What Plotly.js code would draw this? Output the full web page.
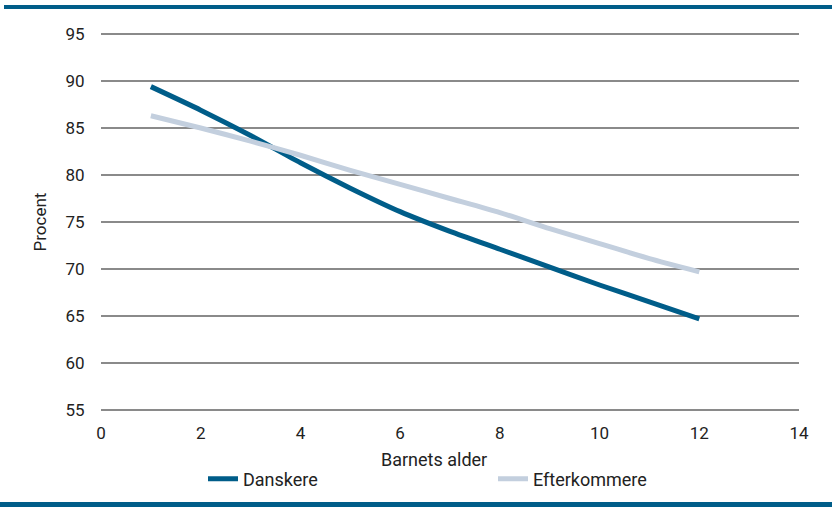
<!DOCTYPE html>
<html>
<head>
<meta charset="utf-8">
<script src="https://cdn.plot.ly/plotly-3.0.1.min.js"></script>
<style>html,body{margin:0;padding:0;background:#fff;}#chart{width:832px;height:507px;}</style>
</head>
<body>
<div id="chart"></div>
<script>
const ages = [1, 2, 3, 4, 5, 6, 7, 8, 9, 10, 11, 12];
const danskere = [89.4, 86.9, 84.2, 81.3, 78.6, 76.1, 74.0, 72.1, 70.2, 68.3, 66.5, 64.7];
const efterkommere = [86.3, 85.0, 83.6, 82.1, 80.5, 79.0, 77.5, 76.0, 74.3, 72.7, 71.1, 69.7];
const xTicks = [0, 2, 4, 6, 8, 10, 12, 14];
const yTicks = [55, 60, 65, 70, 75, 80, 85, 90, 95];
const xTitle = 'Barnets alder';
const yTitle = 'Procent';

const dark = '#005D89';
const light = '#C3CFDE';

const traces = [
  {x: ages, y: danskere, name: 'Danskere', type: 'scatter', mode: 'lines',
   line: {color: dark, width: 5, shape: 'spline', smoothing: 0.6}},
  {x: ages, y: efterkommere, name: 'Efterkommere', type: 'scatter', mode: 'lines',
   line: {color: light, width: 5, shape: 'spline', smoothing: 0.6}}
];

// plot area: 32..412 px; 95 -> 34 px, 55 -> 410 px
const pad = 2 * 40 / 376;

const layout = {
  width: 832, height: 507,
  margin: {l: 101, r: 33, t: 32, b: 95, autoexpand: false},
  paper_bgcolor: '#fff', plot_bgcolor: '#fff',
  font: {family: 'Roboto, "Liberation Sans", sans-serif', size: 17, color: '#222'},
  showlegend: true,
  legend: {orientation: 'h', xref: 'container', yref: 'container',
           x: 203/832, y: (507-479)/507, xanchor: 'left', yanchor: 'middle',
           entrywidth: 245, entrywidthmode: 'pixels', font: {size: 18, color: '#222'},
           bgcolor: 'rgba(0,0,0,0)'},
  xaxis: {range: [0, 14], tickvals: xTicks, showgrid: false, zeroline: false,
          showline: false, ticks: 'outside', ticklen: 6, tickcolor: 'rgba(0,0,0,0)',
          automargin: false, fixedrange: true},
  yaxis: {range: [55 - pad, 95 + pad], tickvals: yTicks, showgrid: true, gridcolor: '#8a8a8a', gridwidth: 2,
          zeroline: false, showline: false, ticks: 'outside', ticklen: 12, tickcolor: 'rgba(0,0,0,0)',
          title: {text: yTitle, font: {size: 17, color: '#222'}, standoff: 14},
          automargin: true, fixedrange: true},
  annotations: [
    {text: xTitle, xref: 'paper', yref: 'paper', x: (434-101)/698, y: (412-459)/380,
     xanchor: 'center', yanchor: 'middle', showarrow: false, font: {size: 18, color: '#222'}}
  ],
  shapes: [
    {type: 'rect', xref: 'paper', yref: 'paper', x0: (4-101)/698, x1: (832-101)/698,
     y0: (412-9)/380, y1: (412-5)/380, fillcolor: dark, line: {width: 0}},
    {type: 'rect', xref: 'paper', yref: 'paper', x0: (0-101)/698, x1: (832-101)/698,
     y0: (412-508)/380, y1: (412-502)/380, fillcolor: dark, line: {width: 0}}
  ]
};

Plotly.newPlot('chart', traces, layout, {displayModeBar: false, staticPlot: true});
</script>
</body>
</html>
